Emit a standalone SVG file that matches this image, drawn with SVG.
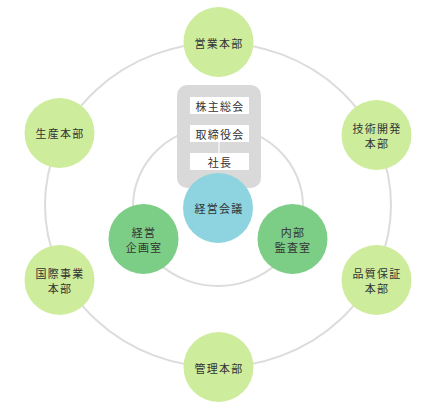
<svg xmlns="http://www.w3.org/2000/svg" width="436" height="410" viewBox="0 0 436 410">
  <style>
    .ring { fill: none; stroke: #dcdcdc; stroke-width: 2; }
    .link { stroke: #f4f4f4; stroke-width: 1.5; }
    .dept { fill: #cdec9c; }
    .staff { fill: #7ccd86; }
    .core { fill: #8dd4e0; }
    .panel { fill: #d9d9d9; }
    .box { fill: #ffffff; }
    text { font-family: "Noto Sans CJK JP", "Noto Sans", sans-serif; font-size: 11px; fill: #333333; text-anchor: middle; dominant-baseline: central; letter-spacing: 1.2px; }
  </style>
  <rect width="436" height="410" fill="#ffffff"/>
  <g id="connectors">
    <ellipse class="ring" cx="218" cy="205" rx="173" ry="162"/>
    <ellipse class="ring" cx="218" cy="206" rx="85" ry="80"/>
  </g>
  <g id="governance">
    <rect class="panel" x="177" y="85" width="84" height="103" rx="10"/>
    <line class="link" x1="219" y1="142" x2="219" y2="153"/>
    <g id="kabunushi">
      <rect class="box" x="190" y="97" width="59" height="17"/>
      <text x="220" y="105.5">株主総会</text>
    </g>
    <g id="torishimari">
      <rect class="box" x="190" y="125" width="59" height="17"/>
      <text x="220" y="133.5">取締役会</text>
    </g>
    <g id="shacho">
      <rect class="box" x="190" y="153" width="59" height="17"/>
      <text x="220" y="161.5">社長</text>
    </g>
  </g>
  <g id="keiei-kaigi">
    <circle class="core" cx="218" cy="208" r="35"/>
    <text x="219" y="208">経営会議</text>
  </g>
  <g id="keiei-kikaku">
    <circle class="staff" cx="143.5" cy="239" r="35"/>
    <text x="144" y="231.5">経営</text>
    <text x="144" y="247">企画室</text>
  </g>
  <g id="naibu-kansa">
    <circle class="staff" cx="292.5" cy="239" r="35"/>
    <text x="293" y="231.5">内部</text>
    <text x="293" y="247">監査室</text>
  </g>
  <g id="eigyo">
    <circle class="dept" cx="218.5" cy="42" r="35"/>
    <text x="219" y="42.5">営業本部</text>
  </g>
  <g id="gijutsu">
    <circle class="dept" cx="376.5" cy="135" r="35"/>
    <text x="377" y="127.5">技術開発</text>
    <text x="377" y="142.5">本部</text>
  </g>
  <g id="hinshitsu">
    <circle class="dept" cx="376.5" cy="280" r="35"/>
    <text x="377" y="272.5">品質保証</text>
    <text x="377" y="287.5">本部</text>
  </g>
  <g id="kanri">
    <circle class="dept" cx="218.5" cy="367" r="35"/>
    <text x="219" y="368">管理本部</text>
  </g>
  <g id="kokusai">
    <circle class="dept" cx="59.5" cy="280" r="35"/>
    <text x="60" y="272.5">国際事業</text>
    <text x="60" y="287.5">本部</text>
  </g>
  <g id="seisan">
    <circle class="dept" cx="59.5" cy="133" r="35"/>
    <text x="60" y="133">生産本部</text>
  </g>
</svg>
